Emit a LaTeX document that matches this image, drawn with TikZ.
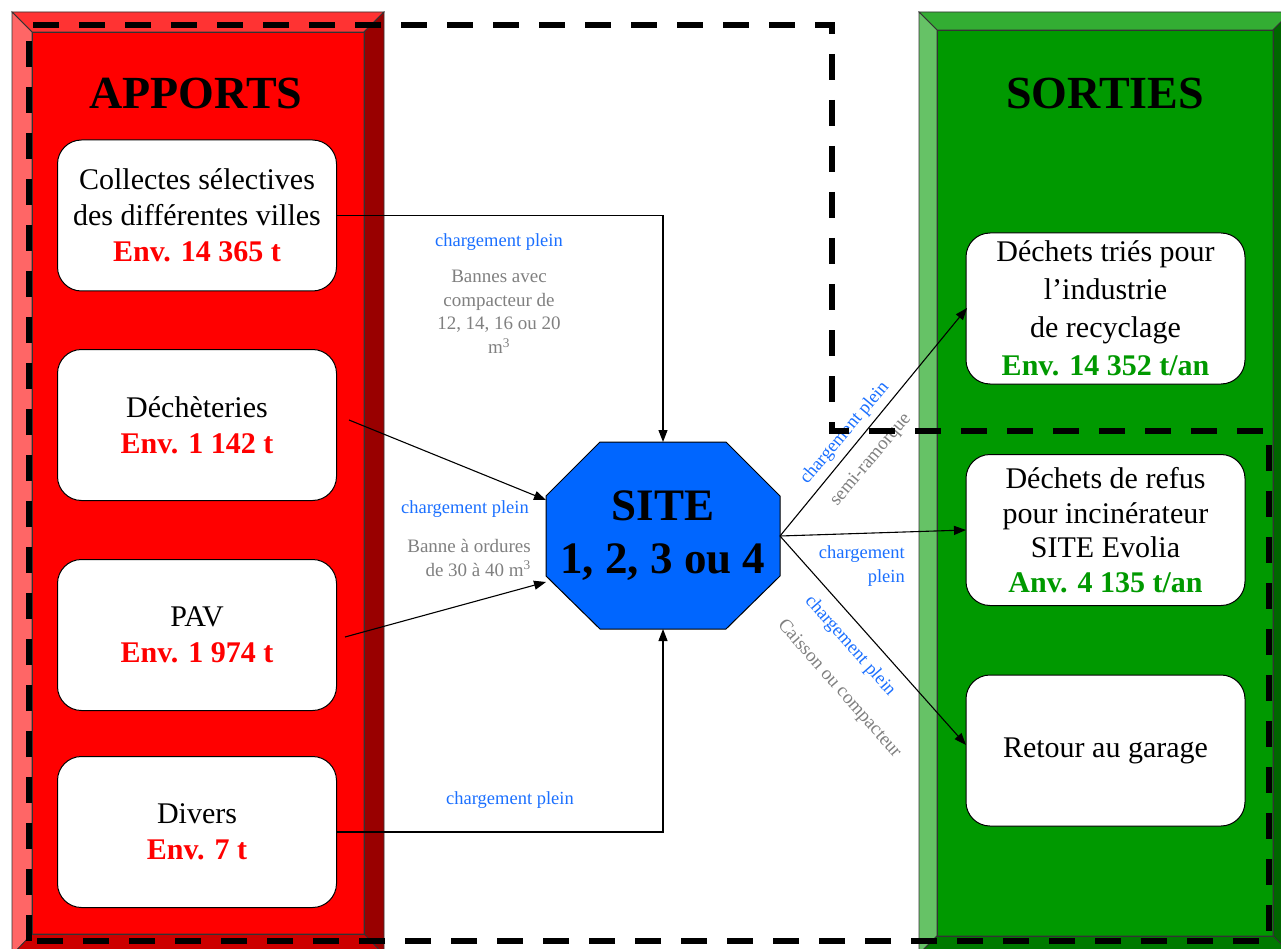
\documentclass[tikz,border=0pt]{standalone}
\usepackage{fontspec}
\setmainfont{Liberation Serif}
\usetikzlibrary{arrows.meta,calc}
\definecolor{rface}{HTML}{FF0000}
\definecolor{rtop}{HTML}{FF3333}
\definecolor{rleft}{HTML}{FF6666}
\definecolor{rright}{HTML}{990000}
\definecolor{rbot}{HTML}{CC0000}
\definecolor{gface}{HTML}{009900}
\definecolor{gtop}{HTML}{33AD33}
\definecolor{gleft}{HTML}{66C266}
\definecolor{gright}{HTML}{006600}
\definecolor{gbot}{HTML}{007A00}
\definecolor{cblue}{HTML}{1A6FFF}
\definecolor{cgrey}{HTML}{808080}
\definecolor{cred}{HTML}{FF0000}
\definecolor{cgreen}{HTML}{009900}
\definecolor{octblue}{HTML}{0066FF}
\newcommand\redval[1]{{\color{cred}\bfseries #1}}
\newcommand\greenval[1]{{\color{cgreen}\bfseries #1}}
\begin{document}
\begin{tikzpicture}[x=1pt,y=-1pt,
  rbox/.style={draw=black, line width=1pt, fill=white, rounded corners=24pt,
    minimum width=279pt, minimum height=151pt, align=center, inner sep=2pt,
    font=\fontsize{30}{36}\selectfont},
  conn/.style={line width=1.1pt, -{Triangle[length=12pt,width=9pt]}},
  blab/.style={text=cblue, font=\fontsize{18.5}{24}\selectfont, inner sep=1pt},
  glab/.style={text=cgrey, font=\fontsize{19}{23.5}\selectfont, align=center, inner sep=1pt},
  title/.style={font=\fontsize{46}{50}\selectfont\bfseries},
  dashline/.style={line width=6pt, dash pattern=on 26pt off 20pt},
  bevel/.style={draw=black!80, line width=0.8pt}
]
\useasboundingbox (0,0) rectangle (1281,949);
\clip (0,0) rectangle (1281,949);

% ---- red panel ----
\fill[rface] (32,32) rectangle (364,934);
\filldraw[bevel, fill=rtop] (12,12) -- (384,12) -- (364,32) -- (32,32) -- cycle;
\filldraw[bevel, fill=rleft] (12,12) -- (32,32) -- (32,934) -- (12,955) -- cycle;
\filldraw[bevel, fill=rright] (384,12) -- (384,955) -- (364,934) -- (364,32) -- cycle;
\filldraw[bevel, fill=rbot] (12,955) -- (32,934) -- (364,934) -- (384,955) -- cycle;
\draw[bevel] (32,32) rectangle (364,934);

% ---- green panel ----
\fill[gface] (937,30) rectangle (1273,936);
\filldraw[bevel, fill=gtop] (919,12) -- (1291,12) -- (1273,30) -- (937,30) -- cycle;
\filldraw[bevel, fill=gleft] (919,12) -- (937,30) -- (937,936) -- (919,954) -- cycle;
\filldraw[bevel, fill=gright] (1291,12) -- (1291,954) -- (1273,936) -- (1273,30) -- cycle;
\filldraw[bevel, fill=gbot] (919,954) -- (937,936) -- (1273,936) -- (1291,954) -- cycle;
\draw[bevel] (937,30) rectangle (1273,936);

% ---- titles ----
\node[title] (tapp) at (196,93) {APPORTS};
\node[title] (tsor) at (1105,93) {SORTIES};

% ---- input boxes ----
\node[rbox] (b1) at (197,215.5) {Collectes sélectives\\des différentes villes\\\redval{Env. 14 365 t}};
\node[rbox] (b2) at (197,425) {Déchèteries\\\redval{Env. 1 142 t}};
\node[rbox] (b3) at (197,635) {PAV\\\redval{Env. 1 974 t}};
\node[rbox] (b4) at (197,832) {Divers\\\redval{Env. 7 t}};

% ---- output boxes ----
\node[rbox, font=\fontsize{30}{38}\selectfont] (bA) at (1105.5,308.5) {Déchets triés pour\\l’industrie\\de recyclage\\\greenval{Env. 14 352 t/an}};
\node[rbox, font=\fontsize{30}{34.5}\selectfont] (bB) at (1105.5,530) {Déchets de refus\\pour incinérateur\\SITE Evolia\\\greenval{Anv. 4 135 t/an}};
\node[rbox] (bC) at (1105.5,750.5) {Retour au garage};

% ---- central site ----
\filldraw[draw=black, line width=1pt, fill=octblue]
  (600,442) -- (726,442) -- (780,496) -- (780,576) -- (726,629) -- (600,629) -- (546,576) -- (546,496) -- cycle;
\node[font=\fontsize{45}{53}\selectfont\bfseries, align=center] (site) at (663,536) {SITE\\1, 2, 3 ou 4};
\coordinate (stop) at (663,442);
\coordinate (sbot) at (663,629);
\coordinate (sl1) at (546,500);
\coordinate (sl2) at (546,582);
\coordinate (sr) at (780,536);

% ---- connector start/end coordinates ----
\coordinate (s2) at (349,420);
\coordinate (s3) at (345,637);
\coordinate (eA) at (967,308);
\coordinate (eB) at (966,530);
\coordinate (eC) at (966,745);

% ---- connectors ----
\draw[conn] (b1.east) -| (stop);
\draw[conn] (s2) -- (sl1);
\draw[conn] (s3) -- (sl2);
\draw[conn] (b4.east) -| (sbot);
\draw[conn] (sr) -- (eA);
\draw[conn] (sr) -- (eB);
\draw[conn] (sr) -- (eC);

% ---- labels ----
\node[blab] (l1) at (499,242) {chargement plein};
\node[glab] (l1g) at (499,312) {Bannes avec\\compacteur de\\12, 14, 16 ou 20\\m\textsuperscript{3}};
\node[blab] (l2) at (465,509) {chargement plein};
\node[glab, align=right, anchor=east] (l2g) at (532,558) {Banne à ordures\\de 30 à 40 m\textsuperscript{3}};
\node[blab] (l4) at (510,800) {chargement plein};
\node[blab, rotate=50] (l5) at (845,433) {chargement plein};
\node[glab, rotate=50] (l5g) at (871,460) {semi-ramorque};
\node[blab, align=right, anchor=east] (l6) at (906,566) {chargement\\plein};
\node[blab, rotate=-48.7] (l7) at (850,646) {chargement plein};
\node[glab, rotate=-48.7] (l7g) at (839,689) {Caisson ou compacteur};

% ---- dashed boundary ----
\draw[dashline] (29,941) -- (29,25) -- (832,25) -- (832,431) -- (1269,431) -- (1269,941) -- cycle;
\end{tikzpicture}
\end{document}
